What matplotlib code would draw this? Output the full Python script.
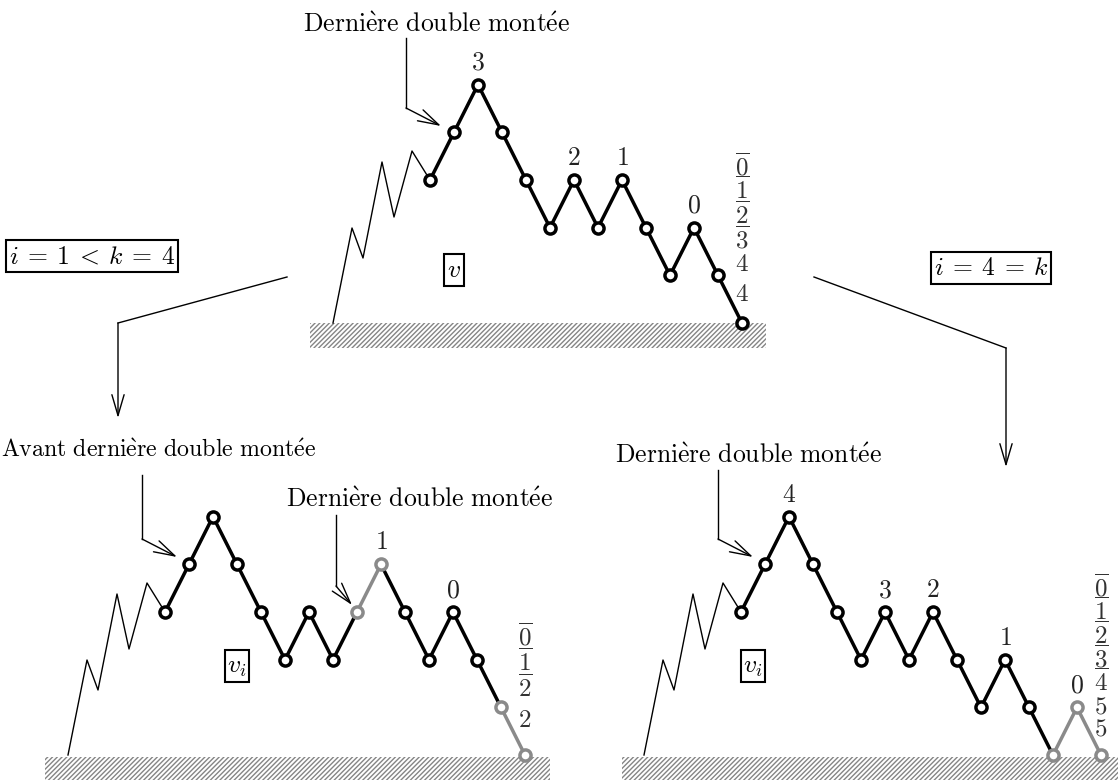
import matplotlib.pyplot as plt
from matplotlib.patches import Rectangle

plt.rcParams['mathtext.fontset'] = 'cm'
plt.rcParams['hatch.linewidth'] = 1.0

# Dyck path tails, as up / down steps
top_steps = "UUDDDUDUDDUDD"
left_steps = "UUDDDUDUUDDUDDD"
right_steps = "UUDDDUDUDDUDDUD"

# labels written above some nodes (node index -> label)
top_peaks = {2: '3', 6: '2', 8: '1', 11: '0'}
left_peaks = {9: '1', 12: '0'}
right_peaks = {2: '4', 6: '3', 8: '2', 11: '1', 14: '0'}

# nodes drawn in grey
top_grey = []
left_grey = [8, 9, 14, 15]
right_grey = [13, 14, 15]

# stacked labels at the end of each path
top_column = ['0', '1', '2', '3', '4', '4']
top_bars = 4
left_column = ['0', '1', '2', '2']
left_bars = 3
right_column = ['0', '1', '2', '3', '4', '5', '5']
right_bars = 5

# thin zigzag before the tail (offsets from first node)
prefix_dx = [-97, -78, -67, -48, -36, -18, 0]
prefix_dy = [143, 48, 78, -18, 37, -29, 0]

DX, DY = 24, 47.7
GREY = '#8a8a8a'
FS = 18.5

fig = plt.figure(figsize=(11.18, 7.80), dpi=100)
ax = fig.add_axes([0, 0, 1, 1])
ax.set_xlim(0, 1118)
ax.set_ylim(780, 0)
ax.axis('off')


def draw_path(x0, y0, steps, peaks, grey, column, nbars, col_y):
    xs, ys = [x0], [y0]
    for s in steps:
        xs.append(xs[-1] + DX)
        ys.append(ys[-1] - DY if s == 'U' else ys[-1] + DY)
    # prefix
    ax.plot([x0 + d for d in prefix_dx], [y0 + d for d in prefix_dy],
            color='black', lw=1.0, zorder=1)
    for i in range(len(steps)):
        c = GREY if (i in grey and i + 1 in grey) else 'black'
        ax.plot(xs[i:i + 2], ys[i:i + 2], color=c, lw=2.5,
                solid_capstyle='round', zorder=2)
    for i, (x, y) in enumerate(zip(xs, ys)):
        c = GREY if i in grey else 'black'
        ax.plot([x], [y], 'o', ms=8.0, mfc='white', mec=c, mew=2.5, zorder=3)
    for i, lab in peaks.items():
        ax.text(xs[i], ys[i] - 15, '$' + lab + '$', ha='center', va='baseline',
                fontsize=FS, color='#222222', zorder=4)
    # column of labels
    xe = xs[-1]
    for j, lab in enumerate(column):
        t = r'$\overline{%s}$' % lab if j < nbars else '$%s$' % lab
        ax.text(xe, col_y[j] + 8, t, ha='center', va='baseline',
                fontsize=FS - 0.5, color='#333333', zorder=4)
    return xs, ys


def ground(x0, x1, y0, y1):
    ax.add_patch(Rectangle((x0, y0), x1 - x0, y1 - y0, fill=False,
                           hatch='///////', ec='#858585', lw=0, zorder=0))


def bent_arrow(pts):
    xs = [p[0] for p in pts[:-1]]
    ys = [p[1] for p in pts[:-1]]
    ax.plot(xs, ys, color='black', lw=1.0)
    ax.annotate('', xy=pts[-1], xytext=pts[-2],
                arrowprops=dict(arrowstyle='->,head_length=0.75,head_width=0.22',
                                lw=1.0, color='black', shrinkA=0, shrinkB=0,
                                mutation_scale=20))


def title(x, y, s, fs=FS):
    ax.text(x, y, s, ha='center', va='baseline', fontsize=fs)


def box(x, y, s, fs=FS):
    ax.text(x, y, s, ha='center', va='center', fontsize=fs,
            bbox=dict(boxstyle='square,pad=0.1', fc='white', ec='black', lw=1.5))


txt_der = r'$\mathrm{Derni\grave{e}re\ double\ mont\acute{e}e}$'
txt_avant = r'$\mathrm{Avant\ derni\grave{e}re\ double\ mont\acute{e}e}$'

# top panel
ground(310, 766, 323, 348)
draw_path(430, 180, top_steps, top_peaks, top_grey, top_column, top_bars,
          [167, 191, 216, 240, 263, 293])
title(437, 32, txt_der)
bent_arrow([(406, 38), (406, 108), (441, 126)])
box(454, 270, '$v$')

# left panel
ground(45, 550, 757, 780)
draw_path(165, 612, left_steps, left_peaks, left_grey, left_column, left_bars,
          [637, 663, 689, 719])
title(159, 457, txt_avant, 17.2)
bent_arrow([(142, 475), (142, 539), (177, 557)])
title(420, 507, txt_der)
bent_arrow([(336, 515), (336, 586), (352, 605)])
box(237, 666, '$v_i$')

# right panel
ground(622, 1118, 757, 780)
draw_path(741, 612, right_steps, right_peaks, right_grey, right_column, right_bars,
          [588, 612, 636, 659, 683, 705, 728])
title(749, 463, txt_der)
bent_arrow([(718, 470), (718, 539), (753, 557)])
box(753, 666, '$v_i$')

# cases
box(92, 256, r'$i\:=\:1\:<\:k\:=\:4$', 18.5)
box(991, 268, r'$i\:=\:4\:=\:k$', 18.5)
bent_arrow([(287, 277), (118, 323), (118, 418)])
bent_arrow([(814, 277), (1006, 348), (1006, 467)])

fig.savefig('out.png', dpi=100)
